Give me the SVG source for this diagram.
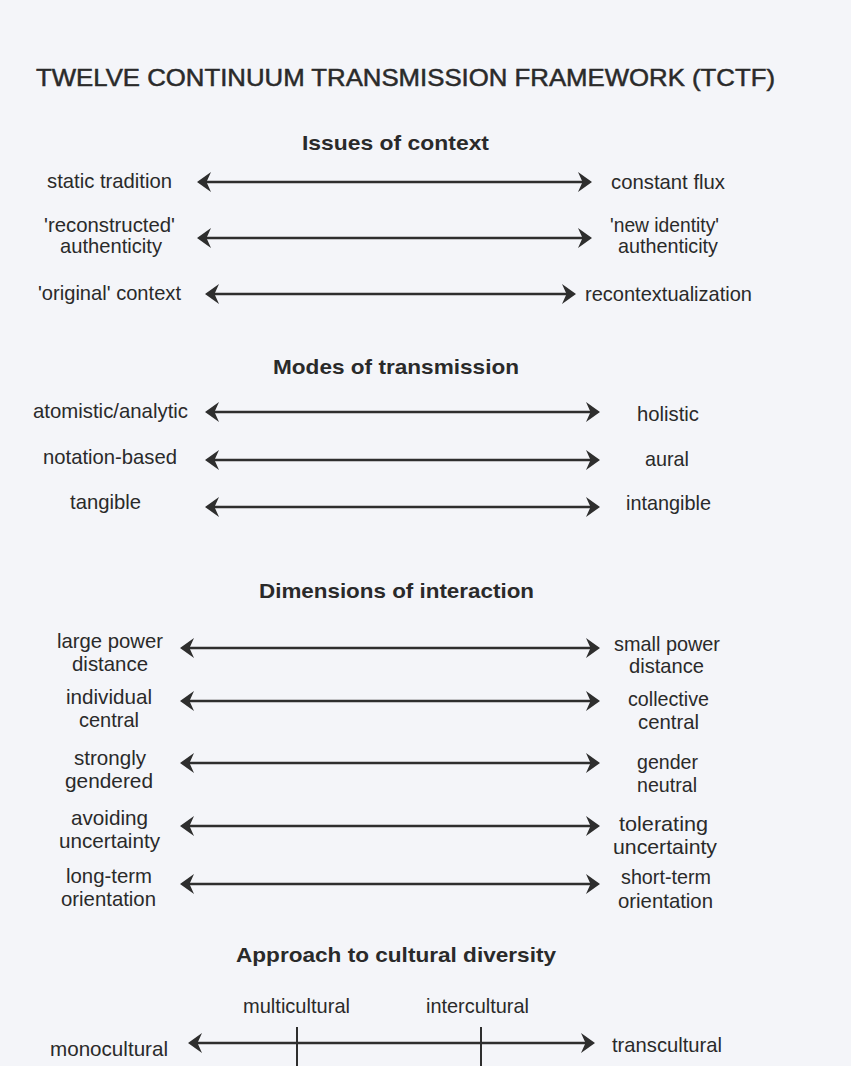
<svg xmlns="http://www.w3.org/2000/svg" width="851" height="1066" viewBox="0 0 851 1066">
<style>
text{font-family:"Liberation Sans",Arial,sans-serif;fill:#2a2a2a;}
.t{font-size:24px;stroke:#2a2a2a;stroke-width:0.5;}
.h{font-size:21px;font-weight:bold;}
.l{font-size:21px;}
.ar{stroke:#2e2e2e;stroke-width:2.4;fill:none;marker-start:url(#ah);marker-end:url(#ah);}
.tk{stroke:#2e2e2e;stroke-width:2;}
</style>
<defs>
<marker id="ah" viewBox="-16 -12 20 24" refX="-7" refY="0" markerWidth="20" markerHeight="24" markerUnits="userSpaceOnUse" orient="auto-start-reverse">
<path d="M0,0 L-14,-10 L-9.5,0 L-14,10 Z" fill="#2e2e2e"/>
</marker>
</defs>
<rect width="851" height="1066" fill="#f4f5f9"/>
<g id="title"><text class="t" x="36" y="86" textLength="739" lengthAdjust="spacingAndGlyphs">TWELVE CONTINUUM TRANSMISSION FRAMEWORK (TCTF)</text></g>

<g id="h-context"><text class="h" x="302" y="150" textLength="187" lengthAdjust="spacingAndGlyphs">Issues of context</text></g>
<g id="n-static"><text class="l" x="47" y="188" textLength="125" lengthAdjust="spacingAndGlyphs">static tradition</text></g>
<g id="n-flux"><text class="l" x="611" y="189" textLength="114" lengthAdjust="spacingAndGlyphs">constant flux</text></g>
<g id="n-reconstructed"><text class="l" x="44" y="232" textLength="131" lengthAdjust="spacingAndGlyphs">'reconstructed'</text><text class="l" x="60" y="253" textLength="102" lengthAdjust="spacingAndGlyphs">authenticity</text></g>
<g id="n-newidentity"><text class="l" x="610" y="232" textLength="109" lengthAdjust="spacingAndGlyphs">'new identity'</text><text class="l" x="618" y="253" textLength="100" lengthAdjust="spacingAndGlyphs">authenticity</text></g>
<g id="n-original"><text class="l" x="38" y="300" textLength="143" lengthAdjust="spacingAndGlyphs">'original' context</text></g>
<g id="n-recontext"><text class="l" x="585" y="301" textLength="167" lengthAdjust="spacingAndGlyphs">recontextualization</text></g>

<g id="h-modes"><text class="h" x="273" y="374" textLength="246" lengthAdjust="spacingAndGlyphs">Modes of transmission</text></g>
<g id="n-atomistic"><text class="l" x="33" y="418" textLength="155" lengthAdjust="spacingAndGlyphs">atomistic/analytic</text></g>
<g id="n-holistic"><text class="l" x="637" y="421" textLength="62" lengthAdjust="spacingAndGlyphs">holistic</text></g>
<g id="n-notation"><text class="l" x="43" y="464" textLength="134" lengthAdjust="spacingAndGlyphs">notation-based</text></g>
<g id="n-aural"><text class="l" x="645" y="466" textLength="44" lengthAdjust="spacingAndGlyphs">aural</text></g>
<g id="n-tangible"><text class="l" x="70" y="509" textLength="71" lengthAdjust="spacingAndGlyphs">tangible</text></g>
<g id="n-intangible"><text class="l" x="626" y="510" textLength="85" lengthAdjust="spacingAndGlyphs">intangible</text></g>

<g id="h-dimensions"><text class="h" x="259" y="598" textLength="275" lengthAdjust="spacingAndGlyphs">Dimensions of interaction</text></g>
<g id="n-largepower"><text class="l" x="57" y="648" textLength="106" lengthAdjust="spacingAndGlyphs">large power</text><text class="l" x="72" y="671" textLength="76" lengthAdjust="spacingAndGlyphs">distance</text></g>
<g id="n-smallpower"><text class="l" x="614" y="651" textLength="106" lengthAdjust="spacingAndGlyphs">small power</text><text class="l" x="629" y="673" textLength="75" lengthAdjust="spacingAndGlyphs">distance</text></g>
<g id="n-individual"><text class="l" x="66" y="704" textLength="86" lengthAdjust="spacingAndGlyphs">individual</text><text class="l" x="79" y="727" textLength="60" lengthAdjust="spacingAndGlyphs">central</text></g>
<g id="n-collective"><text class="l" x="628" y="706" textLength="81" lengthAdjust="spacingAndGlyphs">collective</text><text class="l" x="638" y="729" textLength="61" lengthAdjust="spacingAndGlyphs">central</text></g>
<g id="n-strongly"><text class="l" x="74" y="765" textLength="72" lengthAdjust="spacingAndGlyphs">strongly</text><text class="l" x="65" y="788" textLength="88" lengthAdjust="spacingAndGlyphs">gendered</text></g>
<g id="n-gender"><text class="l" x="637" y="769" textLength="61" lengthAdjust="spacingAndGlyphs">gender</text><text class="l" x="637" y="792" textLength="60" lengthAdjust="spacingAndGlyphs">neutral</text></g>
<g id="n-avoiding"><text class="l" x="71" y="825" textLength="77" lengthAdjust="spacingAndGlyphs">avoiding</text><text class="l" x="59" y="848" textLength="101" lengthAdjust="spacingAndGlyphs">uncertainty</text></g>
<g id="n-tolerating"><text class="l" x="619" y="831" textLength="89" lengthAdjust="spacingAndGlyphs">tolerating</text><text class="l" x="613" y="854" textLength="104" lengthAdjust="spacingAndGlyphs">uncertainty</text></g>
<g id="n-longterm"><text class="l" x="66" y="883" textLength="86" lengthAdjust="spacingAndGlyphs">long-term</text><text class="l" x="61" y="906" textLength="95" lengthAdjust="spacingAndGlyphs">orientation</text></g>
<g id="n-shortterm"><text class="l" x="621" y="884" textLength="90" lengthAdjust="spacingAndGlyphs">short-term</text><text class="l" x="618" y="908" textLength="95" lengthAdjust="spacingAndGlyphs">orientation</text></g>

<g id="h-approach"><text class="h" x="236" y="962" textLength="320" lengthAdjust="spacingAndGlyphs">Approach to cultural diversity</text></g>
<g id="n-multicultural"><text class="l" x="243" y="1013" textLength="107" lengthAdjust="spacingAndGlyphs">multicultural</text></g>
<g id="n-intercultural"><text class="l" x="426" y="1013" textLength="103" lengthAdjust="spacingAndGlyphs">intercultural</text></g>
<g id="n-monocultural"><text class="l" x="50" y="1056" textLength="118" lengthAdjust="spacingAndGlyphs">monocultural</text></g>
<g id="n-transcultural"><text class="l" x="612" y="1052" textLength="110" lengthAdjust="spacingAndGlyphs">transcultural</text></g>

<g id="connectors">
<line class="ar" x1="204" y1="182" x2="585" y2="182"/>
<line class="ar" x1="204" y1="238" x2="585" y2="238"/>
<line class="ar" x1="212" y1="294" x2="569" y2="294"/>
<line class="ar" x1="212" y1="412" x2="593" y2="412"/>
<line class="ar" x1="212" y1="460" x2="593" y2="460"/>
<line class="ar" x1="212" y1="507" x2="593" y2="507"/>
<line class="ar" x1="187" y1="648" x2="593" y2="648"/>
<line class="ar" x1="187" y1="701" x2="593" y2="701"/>
<line class="ar" x1="187" y1="763" x2="593" y2="763"/>
<line class="ar" x1="187" y1="826" x2="593" y2="826"/>
<line class="ar" x1="187" y1="884" x2="593" y2="884"/>
<line class="ar" x1="195" y1="1043" x2="588" y2="1043"/>
<line class="tk" x1="297" y1="1027" x2="297" y2="1066"/>
<line class="tk" x1="481" y1="1027" x2="481" y2="1066"/>
</g>
</svg>
